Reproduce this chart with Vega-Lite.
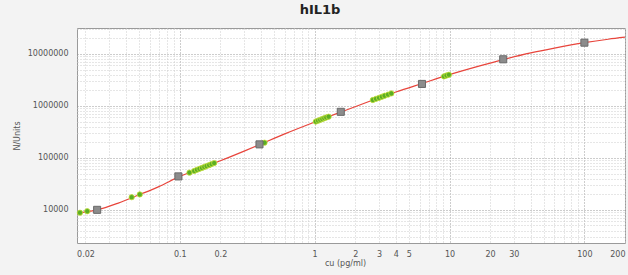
{
  "$schema": "https://vega.github.io/schema/vega-lite/v6.json",
  "autosize": {"type": "none"},
  "width": 548,
  "height": 215,
  "padding": {"left": 77, "top": 28, "right": 3, "bottom": 32},
  "background": "#f3f3f3",
  "title": {
    "text": "hIL1b",
    "font": "DejaVu Sans",
    "fontSize": 13,
    "fontWeight": "bold",
    "color": "#222222",
    "anchor": "middle",
    "dx": -31,
    "offset": 8
  },
  "config": {
    "view": {"fill": "#ffffff", "stroke": "#9a9a9a", "strokeWidth": 1},
    "axis": {
      "labelFont": "DejaVu Sans",
      "labelFontSize": 8,
      "labelColor": "#555555",
      "titleFont": "DejaVu Sans",
      "titleFontSize": 8,
      "titleFontWeight": "normal",
      "titleColor": "#555555",
      "domain": false,
      "ticks": false,
      "gridDash": [1, 2],
      "gridWidth": 1
    }
  },
  "datasets": {
    "curve": [
      {"conc": 0.0173, "signal": 8500},
      {"conc": 0.02, "signal": 9100},
      {"conc": 0.0244, "signal": 10000},
      {"conc": 0.035, "signal": 13500},
      {"conc": 0.05, "signal": 19500},
      {"conc": 0.07, "signal": 28000},
      {"conc": 0.1, "signal": 44000},
      {"conc": 0.15, "signal": 66000},
      {"conc": 0.2, "signal": 88000},
      {"conc": 0.3, "signal": 135000},
      {"conc": 0.39, "signal": 180000},
      {"conc": 0.6, "signal": 290000},
      {"conc": 1, "signal": 490000},
      {"conc": 1.56, "signal": 760000},
      {"conc": 2.5, "signal": 1200000},
      {"conc": 4, "signal": 1850000},
      {"conc": 6.25, "signal": 2700000},
      {"conc": 10, "signal": 4000000},
      {"conc": 16, "signal": 5700000},
      {"conc": 25, "signal": 7800000},
      {"conc": 40, "signal": 10500000},
      {"conc": 60, "signal": 13000000},
      {"conc": 100, "signal": 16500000},
      {"conc": 150, "signal": 19200000},
      {"conc": 200, "signal": 21000000}
    ],
    "samples": [
      {"conc": 0.0182, "signal": 8800},
      {"conc": 0.0206, "signal": 9400},
      {"conc": 0.044, "signal": 17500},
      {"conc": 0.0505, "signal": 19800},
      {"conc": 0.118, "signal": 52000},
      {"conc": 0.128, "signal": 56000},
      {"conc": 0.134, "signal": 59000},
      {"conc": 0.14, "signal": 61500},
      {"conc": 0.146, "signal": 64000},
      {"conc": 0.152, "signal": 67000},
      {"conc": 0.158, "signal": 69500},
      {"conc": 0.165, "signal": 72500},
      {"conc": 0.172, "signal": 76000},
      {"conc": 0.18, "signal": 79500},
      {"conc": 0.425, "signal": 196000},
      {"conc": 1.02, "signal": 500000},
      {"conc": 1.06, "signal": 520000},
      {"conc": 1.1, "signal": 540000},
      {"conc": 1.14, "signal": 560000},
      {"conc": 1.18, "signal": 580000},
      {"conc": 1.22, "signal": 600000},
      {"conc": 1.27, "signal": 620000},
      {"conc": 2.7, "signal": 1300000},
      {"conc": 2.85, "signal": 1370000},
      {"conc": 3.0, "signal": 1430000},
      {"conc": 3.15, "signal": 1500000},
      {"conc": 3.3, "signal": 1570000},
      {"conc": 3.5, "signal": 1650000},
      {"conc": 3.7, "signal": 1740000},
      {"conc": 9.1, "signal": 3700000},
      {"conc": 9.5, "signal": 3850000},
      {"conc": 9.9, "signal": 3980000}
    ],
    "standards": [
      {"conc": 0.0244, "signal": 10000},
      {"conc": 0.0977, "signal": 44000},
      {"conc": 0.39, "signal": 182000},
      {"conc": 1.5625, "signal": 770000},
      {"conc": 6.25, "signal": 2650000},
      {"conc": 25, "signal": 7900000},
      {"conc": 100, "signal": 16500000}
    ]
  },
  "encoding": {
    "x": {
      "field": "conc",
      "type": "quantitative",
      "scale": {"type": "log", "domain": [0.0173, 200], "nice": false, "zero": false},
      "axis": {
        "title": "cu (pg/ml)",
        "titleX": 268,
        "titlePadding": 1,
        "labelPadding": 7,
        "format": "~g",
        "values": [0.02, 0.03, 0.04, 0.05, 0.06, 0.07, 0.08, 0.09, 0.1, 0.2, 0.3, 0.4, 0.5, 0.6, 0.7, 0.8, 0.9, 1, 2, 3, 4, 5, 6, 7, 8, 9, 10, 20, 30, 40, 50, 60, 70, 80, 90, 100, 200],
        "labelExpr": "indexof([0.02, 0.1, 0.2, 1, 2, 3, 4, 5, 10, 20, 30, 100, 200], datum.value) >= 0 ? datum.label : ''",
        "labelOverlap": false,
        "gridColor": {"condition": {"test": "indexof([0.1, 1, 10, 100], datum.value) >= 0", "value": "#9a9a9a"}, "value": "#cccccc"}
      }
    },
    "y": {
      "field": "signal",
      "type": "quantitative",
      "scale": {"type": "log", "domain": [2300, 31600000], "nice": false, "zero": false},
      "axis": {
        "title": "N/Units",
        "titlePadding": 6,
        "labelPadding": 9,
        "values": [3000, 4000, 5000, 6000, 7000, 8000, 9000, 10000, 20000, 30000, 40000, 50000, 60000, 70000, 80000, 90000, 100000, 200000, 300000, 400000, 500000, 600000, 700000, 800000, 900000, 1000000, 2000000, 3000000, 4000000, 5000000, 6000000, 7000000, 8000000, 9000000, 10000000, 20000000, 30000000],
        "labelExpr": "indexof([10000, 100000, 1000000, 10000000], datum.value) >= 0 ? format(datum.value, 'd') : ''",
        "labelOverlap": false,
        "gridColor": {"condition": {"test": "indexof([10000, 100000, 1000000, 10000000], datum.value) >= 0", "value": "#9a9a9a"}, "value": "#cccccc"}
      }
    }
  },
  "layer": [
    {
      "data": {"name": "curve"},
      "mark": {"type": "line", "color": "#e8453c", "strokeWidth": 1.2, "interpolate": "monotone"}
    },
    {
      "data": {"name": "samples"},
      "mark": {"type": "point", "shape": "circle", "filled": true, "fill": "#5aae24", "stroke": "#c6df3a", "strokeWidth": 0.8, "size": 28, "opacity": 1}
    },
    {
      "data": {"name": "standards"},
      "mark": {"type": "point", "shape": "square", "filled": true, "fill": "#8c8c8c", "stroke": "#6a6a6a", "strokeWidth": 1, "size": 50, "opacity": 1}
    }
  ]
}
